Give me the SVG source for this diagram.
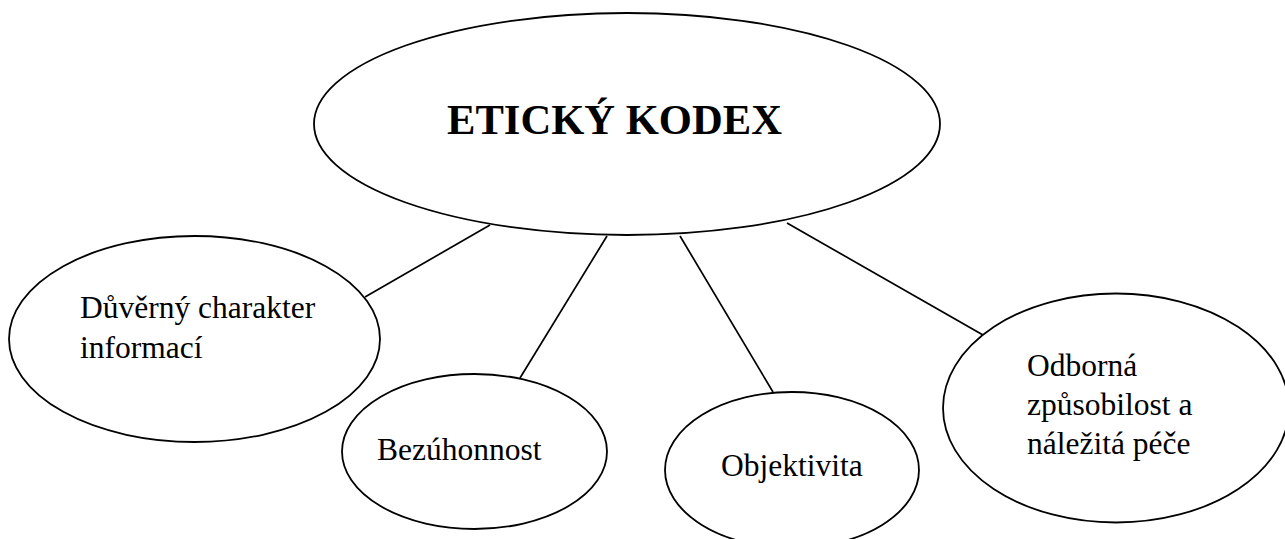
<svg xmlns="http://www.w3.org/2000/svg" width="1285" height="539" viewBox="0 0 1285 539">
<style>
.node{fill:#ffffff;stroke:#000000;stroke-width:1.8}
.conn{stroke:#000000;stroke-width:1.7;fill:none}
.lbl{font-family:"Liberation Serif","Times New Roman",serif;font-size:31.5px;fill:#000000}
.title{font-family:"Liberation Serif","Times New Roman",serif;font-size:42.6px;font-weight:bold;fill:#000000}
</style>
<rect width="1285" height="539" fill="#ffffff"/>
<g id="connectors">
<line class="conn" x1="490" y1="225" x2="365" y2="297"/>
<line class="conn" x1="607" y1="236" x2="520" y2="378"/>
<line class="conn" x1="680" y1="236" x2="773" y2="392"/>
<line class="conn" x1="787" y1="223" x2="983" y2="335"/>
</g>
<g id="node-eticky-kodex">
<ellipse class="node" cx="627" cy="124" rx="313" ry="111"/>
<text class="title" x="447" y="134">ETICKÝ KODEX</text>
</g>
<g id="node-duverny">
<ellipse class="node" cx="194.5" cy="339" rx="185.5" ry="103"/>
<text class="lbl" x="80" y="318">Důvěrný charakter</text>
<text class="lbl" x="80" y="358">informací</text>
</g>
<g id="node-bezuhonnost">
<ellipse class="node" cx="474.5" cy="451.5" rx="132.5" ry="77.5"/>
<text class="lbl" x="377" y="460">Bezúhonnost</text>
</g>
<g id="node-objektivita">
<ellipse class="node" cx="792" cy="470" rx="127" ry="78"/>
<text class="lbl" x="721" y="476">Objektivita</text>
</g>
<g id="node-odborna">
<ellipse class="node" cx="1116" cy="408" rx="173" ry="114.5"/>
<text class="lbl" x="1027" y="376">Odborná</text>
<text class="lbl" x="1027" y="415">způsobilost a</text>
<text class="lbl" x="1027" y="454">náležitá péče</text>
</g>
</svg>
